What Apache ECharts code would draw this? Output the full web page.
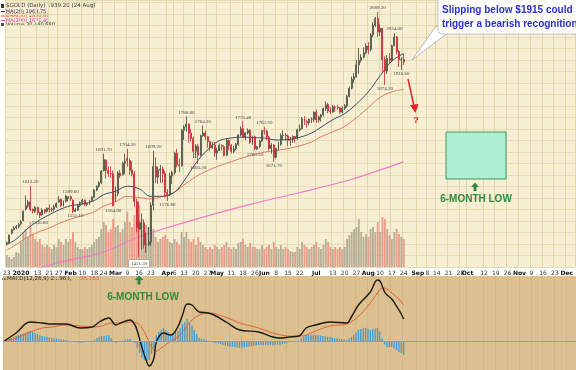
<!DOCTYPE html>
<html><head><meta charset="utf-8">
<script src="https://cdn.jsdelivr.net/npm/echarts@6/dist/echarts.min.js"></script>
<style>html,body{margin:0;padding:0;background:#fff}#c{width:576px;height:370px}</style>
</head><body><div id="c"></div>
<script>
// ---- trading calendar (weekdays minus exchange holidays) ----
const holidays = ['2019-12-25','2020-01-01','2020-01-20','2020-02-17','2020-04-10','2020-05-25','2020-07-03','2020-09-07','2020-11-26'];
const dayCount = 241;
function buildDays(){const out=[];const d=new Date(Date.UTC(2019,11,23));
  while(out.length<dayCount){const wd=d.getUTCDay();const s=d.toISOString().slice(0,10);
    if(wd!==0&&wd!==6&&holidays.indexOf(s)<0) out.push(s); d.setUTCDate(d.getUTCDate()+1);} return out;}
const days = buildDays();

// ---- x tick labels ----
const tickLabels = [['2019-12-23','23'],['2020-01-02','2020'],['2020-01-13','13'],['2020-01-21','21'],['2020-01-27','27'],
 ['2020-02-03','Feb'],['2020-02-10','10'],['2020-02-18','18'],['2020-02-24','24'],['2020-03-02','Mar'],['2020-03-09','9'],
 ['2020-03-16','16'],['2020-03-23','23'],['2020-04-01','Apr'],['2020-04-06','6'],['2020-04-13','13'],['2020-04-20','20'],
 ['2020-04-27','27'],['2020-05-01','May'],['2020-05-11','11'],['2020-05-18','18'],['2020-05-26','26'],['2020-06-01','Jun'],
 ['2020-06-08','8'],['2020-06-15','15'],['2020-06-22','22'],['2020-07-01','Jul'],['2020-07-13','13'],['2020-07-20','20'],
 ['2020-07-27','27'],['2020-08-03','Aug'],['2020-08-10','10'],['2020-08-17','17'],['2020-08-24','24'],['2020-09-01','Sep'],
 ['2020-09-08','8'],['2020-09-14','14'],['2020-09-21','21'],['2020-09-28','28'],['2020-10-01','Oct'],['2020-10-12','12'],
 ['2020-10-19','19'],['2020-10-26','26'],['2020-11-02','Nov'],['2020-11-09','9'],['2020-11-16','16'],['2020-11-23','23'],
 ['2020-12-01','Dec']];

// ---- daily candles [open, high, low, close], one row per trading day from 2019-12-23 ----
const ohlc = [
 [1480,1485,1476,1482],[1482,1500,1481,1499],[1503,1513,1500,1511],[1511,1519,1509,1515],           // Dec 23
 [1515,1522,1512,1518],[1518,1527,1514,1523],[1525,1533,1521,1529],[1532,1555,1530,1553],           // Dec 30
 [1558,1590,1555,1566],[1566,1579,1561,1574],[1575,1613.2,1553,1557],[1557,1560,1548,1554],[1553,1565,1549,1562], // Jan 6
 [1562,1563,1545,1550],[1550,1552,1536.8,1544],[1545,1560,1543,1556],[1557,1558,1547,1552],[1553,1562,1550,1560], // Jan 13
 [1560,1569,1550,1558],[1557,1562,1552,1558],[1558,1568,1553,1563],[1563,1574,1561,1571],            // Jan 21
 [1575,1588,1573,1580],[1581,1582,1563,1566],[1566,1578,1564,1576],[1576,1591,1574,1589],[1583,1588,1576,1587], // Jan 27
 [1587,1589.6,1577,1582],[1579,1581,1549,1553],[1553,1561,1551.1,1556],[1556,1568,1554,1566],[1566,1576,1563,1573], // Feb 3
 [1573,1582,1569,1579],[1579,1580,1565,1569],[1569,1573,1565,1571],[1571,1580,1568,1578],[1578,1588,1576,1586], // Feb 10
 [1586,1605,1584,1603],[1603,1614,1600,1612],[1612,1624,1609,1620],[1620,1651,1618,1649],            // Feb 18
 [1650,1691.7,1648,1677],[1676,1678,1631,1650],[1650,1660,1635,1643],[1643,1660,1632,1642],[1642,1650,1564.8,1566], // Feb 24
 [1585,1612,1575,1594],[1594,1649,1588,1644],[1644,1652,1632,1637],[1640,1672,1638,1668],[1668,1692,1641,1673], // Mar 2
 [1680,1704.3,1660,1675],[1675,1680,1640,1650],[1652,1673,1636,1642],[1642,1649,1563,1576],[1576,1582,1505,1516], // Mar 9
 [1530,1575,1451.3,1512],[1512,1548,1467,1526],[1526,1535,1469,1478],[1478,1505,1460,1478],[1478,1517,1474,1484], // Mar 16
 [1484,1574,1476,1567],[1567,1699.2,1555,1660],[1660,1683,1620,1634],[1634,1660,1618,1651],[1651,1664,1620,1654], // Mar 23
 [1654,1660,1620,1643],[1643,1650,1585,1597],[1597,1605,1576.8,1592],[1592,1645,1589,1637],[1637,1650,1617,1645], // Mar 30
 [1645,1697,1640,1693],[1693,1704,1658,1664],[1664,1680,1646,1662],[1662,1755,1660,1752],            // Apr 6
 [1752,1765,1727,1761],[1761,1788.8,1748,1768],[1768,1770,1720,1745],[1745,1755,1723,1731],[1731,1735,1681,1698], // Apr 13
 [1698,1716,1681,1711],[1711,1717,1666.2,1688],[1688,1741,1685,1738],[1738,1764.2,1735,1745],[1745,1751,1727,1735], // Apr 20
 [1735,1738,1707,1723],[1723,1724,1698,1707],[1707,1722,1705,1713],[1713,1722,1684,1694],[1694,1707,1677,1700], // Apr 27
 [1700,1718,1698,1713],[1713,1716,1700,1710],[1710,1713,1685,1688],[1688,1730,1686,1726],[1726,1728,1701,1713], // May 4
 [1713,1716,1693,1698],[1698,1712,1694,1704],[1704,1719,1701,1716],[1716,1742,1712,1740],[1740,1762,1736,1756], // May 11
 [1756,1775.4,1733,1734],[1734,1748,1726,1745],[1745,1757,1741,1752],[1752,1755,1717,1721],[1721,1738,1715,1735], // May 18
 [1735,1738,1700.5,1704],[1704,1712,1702,1710],[1710,1727,1706,1724],[1724,1752,1722,1751],            // May 26
 [1751,1761,1741,1750],[1750,1753,1726,1734],[1734,1737,1700,1705],[1705,1719,1692,1714],[1714,1716,1671.7,1683], // Jun 1
 [1683,1707,1680,1705],[1705,1722,1700,1716],[1716,1744,1712,1738],[1738,1752,1727,1739],[1739,1745,1725,1737], // Jun 8
 [1737,1741,1711,1726],[1726,1735,1712,1728],[1728,1739,1720,1736],[1736,1737,1720,1731],[1731,1756,1727,1753], // Jun 15
 [1753,1767,1749,1756],[1756,1787,1754,1782],[1782,1789,1766,1775],[1775,1780,1759,1772],[1772,1783,1765,1781], // Jun 22
 [1781,1786,1771,1781],[1781,1802,1773,1800],[1800,1807,1771,1779],[1779,1791,1772,1787],            // Jun 29
 [1787,1795,1775,1793],[1793,1812,1788,1809],[1809,1829,1803,1820],[1820,1825,1797,1803],[1803,1813,1795,1801], // Jul 6
 [1801,1819,1798,1814],[1814,1818,1800,1813],[1813,1820,1806,1812],[1812,1814,1796,1800],[1800,1815,1797,1810], // Jul 13
 [1810,1822,1806,1817],[1817,1846,1812,1843],[1843,1870,1840,1865],[1865,1898,1862,1890],[1890,1908,1880,1897], // Jul 20
 [1897,1945,1895,1931],[1931,1980,1905,1944],[1944,1962,1938,1953],[1953,1982,1950,1966],[1966,1994,1962,1986], // Jul 27
 [1986,1997,1962,1976],[1976,2025,1970,2019],[2019,2058,2013,2049],[2049,2074,2043,2069],[2069,2089.2,2013,2028], // Aug 3
 [2028,2051,2016,2039],[2039,2041,1911,1946],[1946,1956,1874.2,1914],[1914,1960,1905,1949],[1949,1965,1934,1944], // Aug 10
 [1944,1990,1940,1987],[1987,2024.6,1985,2013],[2013,2016,1962,1970],[1970,1975,1925,1946],[1946,1954,1916.6,1947], // Aug 17
 [1947,1963,1931,1939.2]                                                                             // Aug 24
];

// ---- daily volume (thousands) ----
const volume = [
 120,100,80,100, 150,140,250,350, 380,300,450,320,280, 250,280,220,200,220, 200,180,220,200,
 280,250,220,280,250, 280,350,250,200,180, 180,200,180,200,220, 250,280,300,380,
 450,420,350,380,480, 400,420,350,380,450, 550,450,400,520,600, 620,480,450,420,400,
 400,380,300,250,280, 300,320,280,250,240, 280,250,220,350, 300,350,280,250,280,
 220,300,250,220,200, 180,200,180,220,200, 180,200,220,250,200, 180,200,180,240,250,
 280,220,200,240,200, 200,180,180,220, 180,200,220,180,250, 200,180,220,180,200,
 180,160,150,150,200, 180,250,220,200,180, 200,220,250,200, 180,220,280,250,200,
 180,200,180,200,180, 200,280,320,350,380, 400,480,350,300,330, 300,380,400,350,450,
 350,500,480,380,320, 280,350,380,330,300, 280
];

// ---- moving averages (read weekly) ----
const ma20 = [['2019-12-23',1478],['2019-12-30',1490],['2020-01-06',1510],['2020-01-13',1530],['2020-01-21',1545],
 ['2020-01-27',1556],['2020-02-03',1566],['2020-02-10',1570],['2020-02-18',1578],['2020-02-24',1592],['2020-03-02',1600],
 ['2020-03-09',1612],['2020-03-16',1606],['2020-03-23',1588],['2020-03-30',1588],['2020-04-06',1598],['2020-04-13',1625],
 ['2020-04-20',1668],['2020-04-27',1702],['2020-05-04',1725],['2020-05-11',1732],['2020-05-18',1734],['2020-05-26',1733],
 ['2020-06-01',1732],['2020-06-08',1727],['2020-06-15',1728],['2020-06-22',1734],['2020-06-29',1745],['2020-07-06',1760],
 ['2020-07-13',1780],['2020-07-20',1796],['2020-07-27',1822],['2020-08-03',1855],['2020-08-10',1900],['2020-08-17',1942],
 ['2020-08-24',1963.75]];
const ema50 = [['2019-12-23',1466],['2019-12-30',1478],['2020-01-06',1492],['2020-01-13',1505],['2020-01-21',1515],
 ['2020-01-27',1525],['2020-02-03',1535],['2020-02-10',1543],['2020-02-18',1552],['2020-02-24',1565],['2020-03-02',1575],
 ['2020-03-09',1588],['2020-03-16',1585],['2020-03-23',1582],['2020-03-30',1588],['2020-04-06',1598],['2020-04-13',1615],
 ['2020-04-20',1635],['2020-04-27',1650],['2020-05-04',1662],['2020-05-11',1672],['2020-05-18',1682],['2020-05-26',1690],
 ['2020-06-01',1696],['2020-06-08',1700],['2020-06-15',1705],['2020-06-22',1712],['2020-06-29',1722],['2020-07-06',1735],
 ['2020-07-13',1748],['2020-07-20',1762],['2020-07-27',1785],['2020-08-03',1812],['2020-08-10',1840],['2020-08-17',1855],
 ['2020-08-24',1862]];
const ma200 = [['2019-12-23',1405],['2020-01-06',1418],['2020-01-24',1438],['2020-02-21',1460],['2020-03-13',1493],
 ['2020-03-27',1511],['2020-04-22',1538],['2020-05-21',1569],['2020-06-22',1597],['2020-07-22',1627],['2020-08-24',1671.4]];

// ---- MACD(12,26,9) ----
const macdLine = [['2019-12-23',0],['2019-12-31',8],['2020-01-09',19],['2020-01-16',18],['2020-01-23',17],['2020-01-31',17],
 ['2020-02-10',13],['2020-02-18',14],['2020-02-21',19],['2020-02-27',23],['2020-03-03',16],['2020-03-05',18],['2020-03-11',21],
 ['2020-03-13',16],['2020-03-16',10],['2020-03-18',-7],['2020-03-20',-21],['2020-03-23',-25],['2020-03-25',-17],['2020-03-26',-1],
 ['2020-03-31',8],['2020-04-03',6],['2020-04-08',14],['2020-04-13',26],['2020-04-15',37],['2020-04-17',36],['2020-04-22',29],
 ['2020-04-28',28],['2020-05-08',18],['2020-05-15',11],['2020-05-28',9],['2020-06-05',4],['2020-06-10',3],['2020-06-16',4],
 ['2020-06-22',5],['2020-06-25',13],['2020-07-01',16],['2020-07-10',19],['2020-07-21',18],['2020-07-23',24],['2020-07-28',36],
 ['2020-08-04',49],['2020-08-07',61],['2020-08-10',60],['2020-08-11',55],['2020-08-12',49],['2020-08-13',46],['2020-08-17',42],
 ['2020-08-19',35],['2020-08-20',31],['2020-08-21',27],['2020-08-24',21.963]];
const signalLine = [['2019-12-23',0],['2019-12-31',3],['2020-01-09',9],['2020-01-16',13],['2020-01-23',14],['2020-01-31',16],
 ['2020-02-10',15],['2020-02-18',14],['2020-02-24',15],['2020-02-28',18],['2020-03-05',18],['2020-03-11',19],['2020-03-16',18],
 ['2020-03-18',13],['2020-03-20',4],['2020-03-24',-6],['2020-03-26',-10],['2020-03-30',-7],['2020-04-02',-2],['2020-04-08',4],
 ['2020-04-14',12],['2020-04-17',21],['2020-04-22',26],['2020-04-28',28],['2020-05-08',23],['2020-05-15',18],['2020-05-28',13],
 ['2020-06-05',8],['2020-06-16',5],['2020-06-23',5],['2020-07-01',10],['2020-07-10',15],['2020-07-21',17],['2020-07-29',27],
 ['2020-08-04',38],['2020-08-07',48],['2020-08-11',53],['2020-08-13',52],['2020-08-18',46],['2020-08-20',42],['2020-08-24',35.763]];
const histogram = [0,1,2,3,4,5, 6,7,7.5,8.3,9.2,10, 9,8,7,6,5, 4.5,4,3.5,3, 2.7,2.3,2,1.7,1.3,1, 0.5,0,-0.5,-1,-1.5,-2,
 -1.6,-1.2,-0.8,-0.4,0, 1.4,2.8,4.2, 5,5.3,5.5,5.8, 2.7,0.3,-2,-1,0,0.5, 1.3,2,2,0,-2, -7,-12,-17,-19,-20,
 -19,-13,-7,6,9, 11,13,11,9,6.5, 8,9,10,13, 17,19,22,18,15, 11,7,3,2,1.5, 1,0,-0.6,-1.2,-2,
 -2.5,-3,-3.8,-4.4,-5, -5.4,-5.8,-6.2,-6.6,-7, -6.6,-6.2,-5.9,-5.5,-5.1, -4.7,-4.4,-4,-4, -4,-4,-4,-4,-4,
 -3.7,-3.7,-3.7,-3,-2.4, -1.7,-1,-0.8,-0.5,-0.2, 0,2.7,4.5,6.3,6.3, 6.2,6.1,6,5.7, 5.3,5,4.7,4.3,4,
 3.6,3.1,2.7,2.3,1.9, 1.4,1,2.4,3.9,6.3, 8.7,11,12,12.8,13.3, 12,11,11.7,12.3,13, 9.5,2.5,-3.5,-6,-6,
 -6,-7.5,-9,-11,-12, -13.8];

// ---- swing high / low annotations on the price ----
const priceMarks = [['2020-01-08','1613.20','high'],['2020-01-14','1536.80','low'],['2020-02-03','1589.60','high'],
 ['2020-02-05','1551.10','low'],['2020-02-24','1691.70','high'],['2020-02-28','1564.80','low'],['2020-03-09','1704.30','high'],
 ['2020-03-16','1451.30','low'],['2020-03-24','1699.20','high'],['2020-04-01','1576.80','low'],['2020-04-14','1788.80','high'],
 ['2020-04-21','1666.20','low'],['2020-04-23','1764.20','high'],['2020-05-18','1775.40','high'],['2020-05-26','1700.50','low'],
 ['2020-06-01','1761.00','high'],['2020-06-05','1671.70','low'],['2020-08-07','2089.20','high'],['2020-08-12','1874.20','low'],
 ['2020-08-18','2024.60','high'],['2020-08-21','1916.60','low']];

// ---------------------------------------------------------------
const labelMap = {}; tickLabels.forEach(t => labelMap[t[0]] = t[1]);
const isTick = (i, v) => labelMap[v] !== undefined;
const pos = d => days.indexOf(d);
const pts = arr => arr.map(p => [pos(p[0]), p[1]]);

const candleData = ohlc.map(r => [r[0], r[3], r[2], r[1]]);
const volData = volume.map((v, i) => ({value: v, itemStyle: {color: ohlc[i][3] >= ohlc[i][0] ? '#b6ae96' : '#ec9c88'}}));
const markData = priceMarks.map(m => {
  const isLow = m[2] === 'low';
  const lab = {show: true, position: isLow ? 'bottom' : 'top', distance: 1.5, formatter: m[1], fontSize: 5,
    fontFamily: 'Liberation Serif', color: '#444'};
  if (m[1] === '1451.30') Object.assign(lab, {backgroundColor: '#fff', borderColor: '#888', borderWidth: 0.5, padding: [1, 2], distance: 3});
  return {coord: [m[0], parseFloat(m[1])], symbol: 'circle', symbolSize: 0.1, itemStyle: {color: 'rgba(0,0,0,0)'}, label: lab};
});

const boldLab = t => /^[A-Z]/.test(t) || t === '2020';
const green = '#2f8a3f';
const F = '"DejaVu Sans", sans-serif';

const chart = echarts.init(document.getElementById('c'), null, {renderer: 'canvas'});
chart.setOption({
  animation: false,
  backgroundColor: '#ffffff',
  grid: [
    {left: 3, right: 0, top: 0, height: 267, show: true, backgroundColor: '#f7efd3', borderWidth: 0},
    {left: 3, right: 0, top: 276, height: 94, show: true, backgroundColor: '#dcc08f', borderWidth: 0}
  ],
  xAxis: [
    {type: 'category', gridIndex: 0, data: days, axisLine: {show: false}, axisTick: {show: false},
     axisLabel: {interval: isTick, margin: 3, fontSize: 6, color: '#333', fontFamily: F,
       formatter: v => boldLab(labelMap[v]) ? '{b|' + labelMap[v] + '}' : labelMap[v],
       rich: {b: {fontWeight: 'bold', fontSize: 6, color: '#111', fontFamily: F}}},
     splitLine: {show: true, interval: isTick, lineStyle: {color: '#e3d6ab', width: 1}}},
    {type: 'category', gridIndex: 1, data: days, axisLine: {show: false}, axisTick: {show: false}, axisLabel: {show: false},
     splitLine: {show: true, interval: isTick, lineStyle: {color: '#d2b684', width: 1}}}
  ],
  yAxis: [
    {type: 'log', gridIndex: 0, min: 1429.5, max: 2126.8, axisLine: {show: false}, axisTick: {show: false},
     axisLabel: {show: false}, splitLine: {show: false}},
    {type: 'value', gridIndex: 0, min: 0, max: 2670, show: false},
    {type: 'value', gridIndex: 0, min: 0, max: 267, interval: 11.5, axisLine: {show: false}, axisTick: {show: false},
     axisLabel: {show: false}, splitLine: {show: true, lineStyle: {color: '#e8dcb4', width: 1}}},
    {type: 'value', gridIndex: 1, min: -29, max: 65, show: false}
  ],
  series: [
    {type: 'bar', name: 'Volume', xAxisIndex: 0, yAxisIndex: 1, data: volData, barWidth: '80%', z: 1, silent: true},
    {type: 'line', name: 'MA200', xAxisIndex: 0, yAxisIndex: 0, data: pts(ma200), showSymbol: false, smooth: 0.3,
     lineStyle: {color: '#f27ac8', width: 1.2}, z: 3},
    {type: 'line', name: 'EMA50', xAxisIndex: 0, yAxisIndex: 0, data: pts(ema50), showSymbol: false, smooth: 0.4,
     lineStyle: {color: '#e07a62', width: 1}, z: 3},
    {type: 'line', name: 'MA20', xAxisIndex: 0, yAxisIndex: 0, data: pts(ma20), showSymbol: false, smooth: 0.4,
     lineStyle: {color: '#3d4a6e', width: 1}, z: 3},
    {type: 'candlestick', name: '$GOLD', xAxisIndex: 0, yAxisIndex: 0, data: candleData, barWidth: '62%', z: 4,
     itemStyle: {color: '#dfe5d2', color0: '#e5333f', borderColor: '#3b4236', borderColor0: '#c92430', borderWidth: 0.8},
     markPoint: {data: markData, silent: true}},
    {type: 'bar', name: 'Hist', xAxisIndex: 1, yAxisIndex: 3, data: histogram, barWidth: 1.3,
     itemStyle: {color: '#3f9bd2'}, z: 2,
     markLine: {silent: true, symbol: 'none', label: {show: false}, data: [{yAxis: 0}],
       lineStyle: {color: '#9b9b9b', width: 1, type: 'solid'}}},
    {type: 'line', name: 'Signal', xAxisIndex: 1, yAxisIndex: 3, data: pts(signalLine), showSymbol: false, smooth: 0.4,
     lineStyle: {color: '#e2603e', width: 1}, z: 3},
    {type: 'line', name: 'MACD', xAxisIndex: 1, yAxisIndex: 3, data: pts(macdLine), showSymbol: false, smooth: 0.4,
     lineStyle: {color: '#1c1a14', width: 1.4}, z: 4}
  ],
  graphic: [
    // legend block
    {type: 'rect', shape: {x: 1, y: 4, width: 3, height: 4}, style: {fill: '#333'}},
    {type: 'text', x: 6, y: 6, style: {text: '$GOLD (Daily) 1939.20 (24 Aug)', font: '5.5px ' + F, fill: '#333', verticalAlign: 'middle'}},
    {type: 'line', shape: {x1: 1, y1: 11.5, x2: 5, y2: 11.5}, style: {stroke: '#3d4a6e', lineWidth: 1}},
    {type: 'text', x: 6, y: 11.5, style: {text: 'MA(20) 1963.75', font: '5px ' + F, fill: '#2c3a66', verticalAlign: 'middle'}},
    {type: 'line', shape: {x1: 1, y1: 16, x2: 5, y2: 16}, style: {stroke: '#e0553c', lineWidth: 1}},
    {type: 'text', x: 6, y: 16, style: {text: 'EMA(50) 1850.89', font: '5px ' + F, fill: '#d8402c', verticalAlign: 'middle'}},
    {type: 'line', shape: {x1: 1, y1: 20.5, x2: 5, y2: 20.5}, style: {stroke: '#e044b4', lineWidth: 1}},
    {type: 'text', x: 6, y: 20.5, style: {text: 'MA(200) 1671.40', font: '5px ' + F, fill: '#d43aa8', verticalAlign: 'middle'}},
    {type: 'rect', shape: {x: 1, y: 23, width: 3, height: 3}, style: {fill: '#555'}},
    {type: 'text', x: 6, y: 25, style: {text: 'Volume 20,440,680', font: '5px ' + F, fill: '#333', verticalAlign: 'middle'}},
    // MACD legend
    {type: 'line', shape: {x1: 2, y1: 279, x2: 6, y2: 279}, style: {stroke: '#111', lineWidth: 1}},
    {type: 'text', x: 7, y: 279, style: {text: 'MACD(12,26,9) 21.963,', font: '5.5px ' + F, fill: '#222', verticalAlign: 'middle'}},
    {type: 'text', x: 80, y: 279, style: {text: '35.763', font: '5.5px ' + F, fill: '#e04a30', verticalAlign: 'middle'}},
    {type: 'text', x: 106, y: 279, style: {text: '-13.800', font: '5.5px ' + F, fill: '#c9c0b0', verticalAlign: 'middle'}},
    // callout
    {type: 'polygon', shape: {points: [[436, 26], [412, 60], [449, 32]]}, style: {fill: '#ffffff', stroke: '#a8a8a8', lineWidth: 0.8}, z: 10},
    {type: 'rect', shape: {x: 438, y: -8, width: 150, height: 42, r: 4}, style: {fill: '#ffffff', stroke: '#b5b5b5', lineWidth: 0.8}, z: 10},
    {type: 'text', x: 442, y: 10, style: {text: 'Slipping below $1915 could', font: 'bold 10px "Liberation Sans", Arial', fill: '#2a30d0', verticalAlign: 'middle'}, z: 11},
    {type: 'text', x: 442, y: 24, style: {text: 'trigger a bearish recognition', font: 'bold 10px "Liberation Sans", Arial', fill: '#2a30d0', verticalAlign: 'middle'}, z: 11},
    // red arrow and question mark
    {type: 'line', shape: {x1: 408, y1: 79, x2: 414, y2: 106}, style: {stroke: '#e3202a', lineWidth: 1.5}, z: 10},
    {type: 'polygon', shape: {points: [[410, 105], [418.5, 104], [415.5, 113]]}, style: {fill: '#e3202a'}, z: 10},
    {type: 'text', x: 416, y: 121, style: {text: '?', font: 'bold 9px "Liberation Sans", Arial', fill: '#e3202a', align: 'center', verticalAlign: 'middle'}, z: 10},
    // target zone box
    {type: 'rect', shape: {x: 446, y: 132, width: 60, height: 47}, style: {fill: '#aeeed3', stroke: '#3d9a5a', lineWidth: 1}, z: 10},
    {type: 'polygon', shape: {points: [[471, 187], [475, 182.5], [479, 187], [476.5, 187], [476.5, 191], [473.5, 191], [473.5, 187]]}, style: {fill: green}, z: 10},
    {type: 'text', x: 476, y: 199, style: {text: '6-MONTH LOW', font: 'bold 10px "Liberation Sans", Arial', fill: green, align: 'center', verticalAlign: 'middle'}, z: 10},
    // MACD panel label
    {type: 'polygon', shape: {points: [[134.5, 280], [139, 275.5], [143.5, 280], [140.5, 280], [140.5, 284.5], [137.5, 284.5], [137.5, 280]]}, style: {fill: green}, z: 10},
    {type: 'text', x: 143, y: 297, style: {text: '6-MONTH LOW', font: 'bold 10px "Liberation Sans", Arial', fill: green, align: 'center', verticalAlign: 'middle'}, z: 10}
  ]
});
</script>
</body></html>
